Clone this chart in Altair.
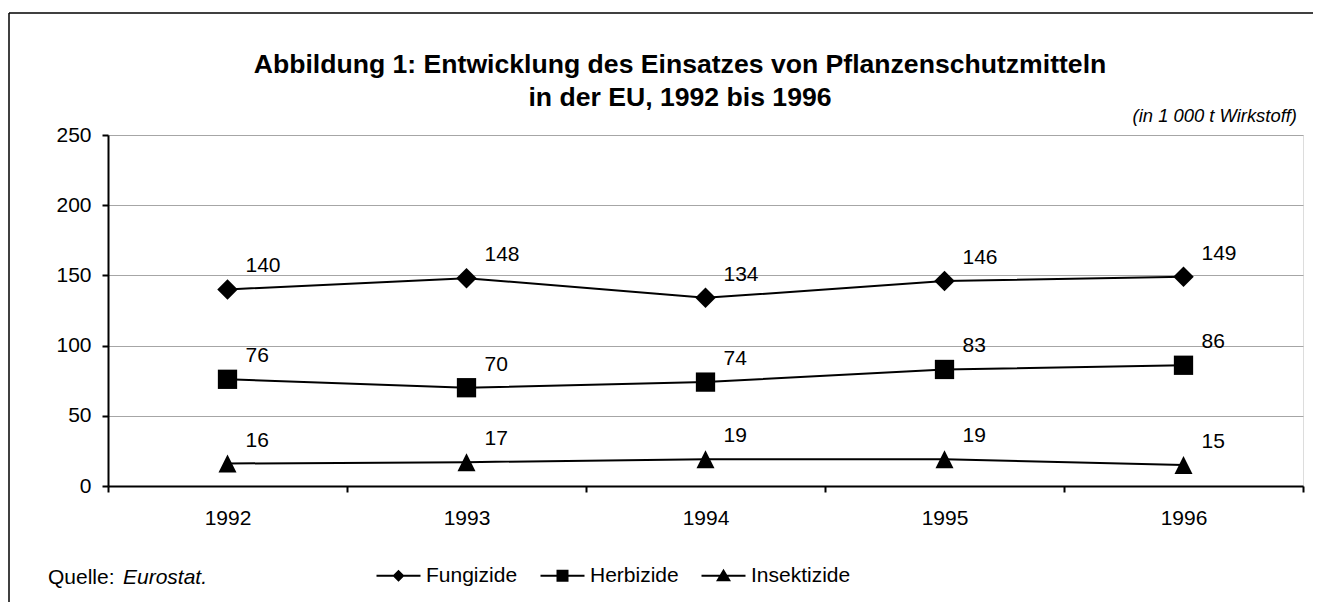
import altair as alt
import pandas as pd

years = [1992, 1993, 1994, 1995, 1996]
series_names = ["Fungizide", "Herbizide", "Insektizide"]
fungizide = [140, 148, 134, 146, 149]
herbizide = [76, 70, 74, 83, 86]
insektizide = [16, 17, 19, 19, 15]

y_ticks = [0, 50, 100, 150, 200, 250]
x_ticks = [1991.5, 1992, 1992.5, 1993, 1993.5, 1994, 1994.5, 1995, 1995.5, 1996, 1996.5]

title_lines = ["Abbildung 1: Entwicklung des Einsatzes von Pflanzenschutzmitteln",
               "in der EU, 1992 bis 1996"]
unit_text = "(in 1 000 t Wirkstoff)"
source_label = "Quelle:"
source_name = "Eurostat."

rows = []
for name, vals in zip(series_names, [fungizide, herbizide, insektizide]):
    for yr, v in zip(years, vals):
        rows.append({"Jahr": yr, "Wert": v, "Reihe": name})
df = pd.DataFrame(rows)

FONT = "Liberation Sans"

x_enc = alt.X("Jahr:Q",
              scale=alt.Scale(domain=[1991.5, 1996.5], nice=False, zero=False),
              axis=alt.Axis(values=x_ticks, title=None, grid=False,
                            labelExpr="datum.value % 1 === 0 ? format(datum.value, 'd') : ''",
                            labelOverlap=False, labelFlush=False,
                            tickOpacity={"condition": {"test": "datum.value % 1 === 0", "value": 0}, "value": 1},
                            tickSize=6, tickWidth=2, tickColor="black",
                            domainColor="black", domainWidth=2,
                            labelFontSize=21, labelColor="black", labelFont=FONT,
                            labelPadding=15))
y_enc = alt.Y("Wert:Q",
              scale=alt.Scale(domain=[0, 250], nice=False),
              axis=alt.Axis(values=y_ticks, title=None, grid=True,
                            gridColor="#a6a6a6", gridWidth=1,
                            tickSize=6, tickWidth=2, tickColor="black",
                            domainColor="black", domainWidth=2,
                            labelFontSize=21, labelColor="black", labelFont=FONT,
                            labelPadding=11))

base = alt.Chart(df)

lines = base.mark_line(color="black", strokeWidth=2).encode(
    x=x_enc, y=y_enc, detail="Reihe:N")

points = base.mark_point(filled=True, color="black", opacity=1).encode(
    x=x_enc, y=y_enc,
    shape=alt.Shape("Reihe:N", scale=alt.Scale(domain=series_names,
                    range=["diamond", "square", "M0,-1L1,1L-1,1Z"]), legend=None),
    size=alt.Size("Reihe:N", scale=alt.Scale(domain=series_names, range=[420, 324, 441]), legend=None),
)

labels = base.mark_text(align="left", baseline="middle", dx=18, dy=-23,
                        fontSize=21, font=FONT, color="black").encode(
    x=x_enc, y=y_enc, text="Wert:Q")

# legend symbols: a thin filled bar (the line) plus the marker
bar = "M-2.2,-0.1L2.2,-0.1L2.2,0.1L-2.2,0.1Z"
legend_paths = [
    bar + "M0,-0.6L0.6,0L0,0.6L-0.6,0Z",
    bar + "M-0.6,-0.6L0.6,-0.6L0.6,0.6L-0.6,0.6Z",
    bar + "M0,-0.7L0.75,0.55L-0.75,0.55Z",
]
legend_layer = base.mark_point(filled=True, color="black", opacity=1).encode(
    shape=alt.Shape("Reihe:N", scale=alt.Scale(domain=series_names, range=legend_paths),
                    legend=alt.Legend(title=None, orient="none", legendX=280, legendY=430,
                                      direction="horizontal", symbolSize=400,
                                      symbolFillColor="black", symbolOpacity=1,
                                      symbolStrokeWidth=0,
                                      labelFontSize=21, labelFont=FONT, labelColor="black",
                                      labelOffset=17, columnPadding=22, padding=0,
                                      labelLimit=400))
).transform_filter("false")

one = alt.Data(values=[{}])

top_line = alt.Chart(one).mark_rule(color="black", strokeWidth=1.5, clip=False).encode(
    x=alt.value(-99), x2=alt.value(1205), y=alt.value(-122))
left_line = alt.Chart(one).mark_rule(color="black", strokeWidth=1.5, clip=False).encode(
    x=alt.value(-99), y=alt.value(-122), y2=alt.value(560))

title1 = alt.Chart(one).mark_text(text=title_lines[0], fontSize=26.6, fontWeight="bold", font=FONT,
                                  align="center", baseline="alphabetic", color="black").encode(
    x=alt.value(572), y=alt.value(-62))
title2 = alt.Chart(one).mark_text(text=title_lines[1], fontSize=26.6, fontWeight="bold", font=FONT,
                                  align="center", baseline="alphabetic", color="black").encode(
    x=alt.value(572), y=alt.value(-29))
unit = alt.Chart(one).mark_text(text=unit_text, fontSize=18.4, fontStyle="italic", font=FONT,
                                align="right", baseline="alphabetic", color="black").encode(
    x=alt.value(1189), y=alt.value(-13))
src1 = alt.Chart(one).mark_text(text=source_label, fontSize=21, font=FONT,
                                align="left", baseline="alphabetic", color="black").encode(
    x=alt.value(-60), y=alt.value(449))
src2 = alt.Chart(one).mark_text(text=source_name, fontSize=21, fontStyle="italic", font=FONT,
                                align="left", baseline="alphabetic", color="black").encode(
    x=alt.value(15), y=alt.value(449))

chart = alt.layer(top_line, left_line, lines, points, labels, legend_layer,
                  title1, title2, unit, src1, src2).resolve_scale(
    shape="independent", size="independent"
).properties(
    width=1195, height=351,
    padding={"left": 100, "top": 127, "right": 11, "bottom": 116},
    autosize=alt.AutoSizeParams(type="none"),
).configure_view(stroke=None).configure(font=FONT, background="white")

chart.save("out.html", embed_options={"renderer": "svg", "actions": False})
